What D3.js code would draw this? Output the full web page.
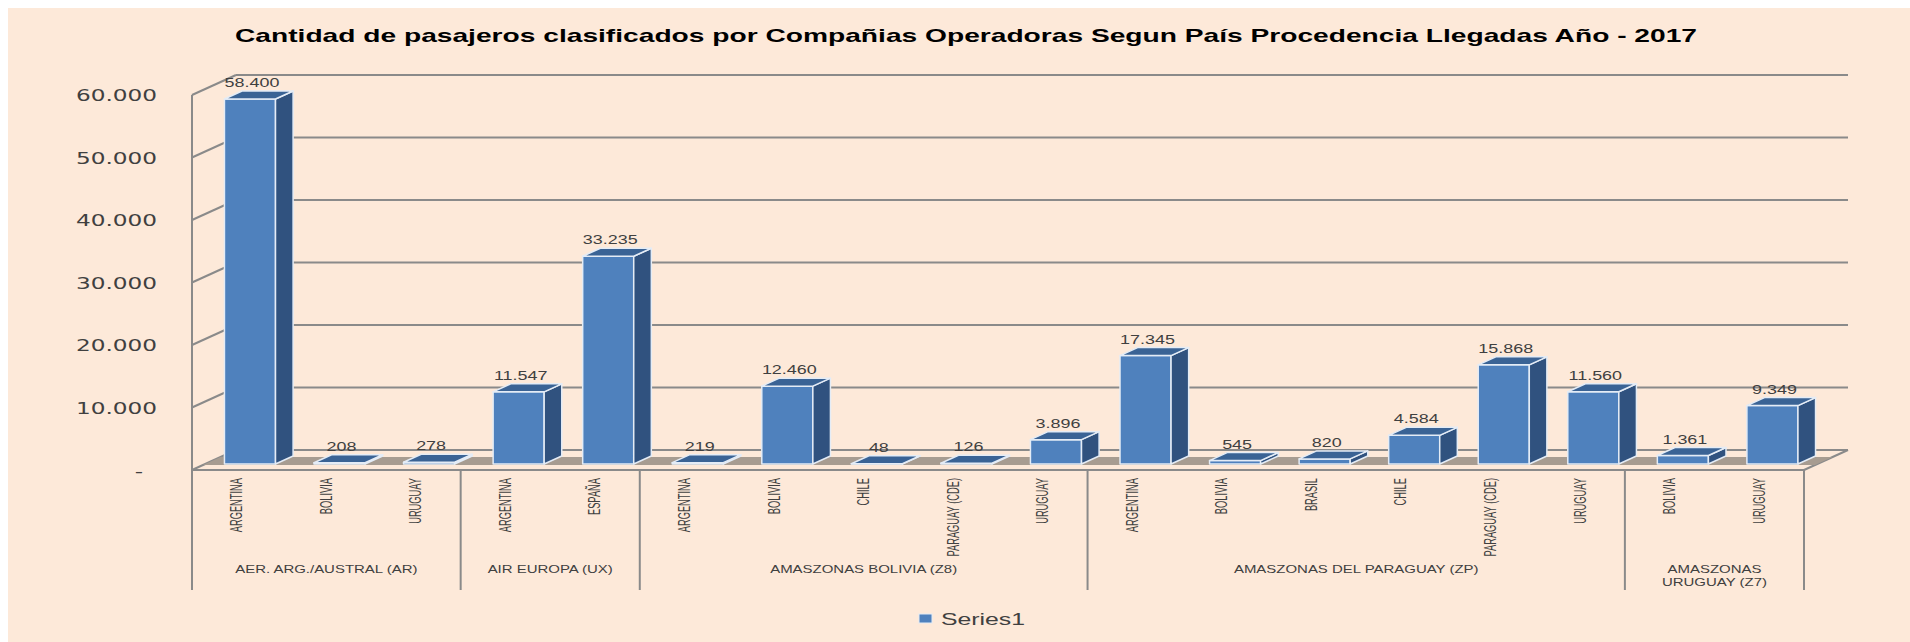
<!DOCTYPE html>
<html>
<head>
<meta charset="utf-8">
<script src="https://cdn.jsdelivr.net/npm/d3@7"></script>
<style>
  body { margin: 0; background: #fff; }
  svg text { font-family: "Liberation Sans", Arial, sans-serif; fill: #404040; }
</style>
</head>
<body>
<svg id="chart" width="1910" height="642"></svg>
<script>
// ---- data ----
var title = "Cantidad de pasajeros clasificados por Compañias Operadoras Segun País Procedencia Llegadas Año - 2017";
var companies = ["AER. ARG./AUSTRAL (AR)", "AIR EUROPA (UX)", "AMASZONAS BOLIVIA (Z8)", "AMASZONAS DEL PARAGUAY (ZP)", "AMASZONAS URUGUAY (Z7)"];
var countries = ["ARGENTINA", "BOLIVIA", "URUGUAY",
                 "ARGENTINA", "ESPAÑA",
                 "ARGENTINA", "BOLIVIA", "CHILE", "PARAGUAY (CDE)", "URUGUAY",
                 "ARGENTINA", "BOLIVIA", "BRASIL", "CHILE", "PARAGUAY (CDE)", "URUGUAY",
                 "BOLIVIA", "URUGUAY"];
var companyIndex = [0, 0, 0, 1, 1, 2, 2, 2, 2, 2, 3, 3, 3, 3, 3, 3, 4, 4];
var series1 = [58400, 208, 278, 11547, 33235, 219, 12460, 48, 126, 3896, 17345, 545, 820, 4584, 15868, 11560, 1361, 9349];
var yTicks = [0, 10000, 20000, 30000, 40000, 50000, 60000];
var seriesName = "Series1";

// ---- layout ----
var left = 192, right = 1804, floorY = 470, topY = 95;
var depthX = 44, depthY = -20;   // full depth offset of the 3D box
var sepBottom = 590;
var gridColor = "#8a8a8a";

var svg = d3.select("#chart");
var fmt = d3.formatLocale({decimal: ",", thousands: ".", grouping: [3], currency: ["", ""]}).format(",d");

var x = d3.scaleBand().domain(d3.range(countries.length)).range([left, right]);
var y = d3.scaleLinear().domain([0, 60000]).range([floorY, topY]);

//Text squeezed/stretched horizontally like the reference
function stretched(g, px, py, str, sx, extra) {
  var t = g.append("text")
    .attr("transform", "translate(" + px + "," + py + ") scale(" + sx + ",1)" + (extra || ""))
    .attr("dominant-baseline", "central")
    .text(str);
  return t;
}

//Background
svg.append("rect").attr("x", 8).attr("y", 8).attr("width", 1902).attr("height", 634).attr("fill", "#FDE9D9");

//Title
svg.append("text")
  .attr("x", 966).attr("y", 35)
  .attr("text-anchor", "middle")
  .attr("dominant-baseline", "central")
  .attr("textLength", 1462)
  .attr("lengthAdjust", "spacingAndGlyphs")
  .style("font-weight", "bold")
  .style("font-size", "19px")
  .style("fill", "#000")
  .text(title);

var walls = svg.append("g").attr("stroke", gridColor).attr("stroke-width", 2).attr("fill", "none");

//Back wall gridlines
walls.selectAll(".grid").data(yTicks).enter().append("line")
  .attr("x1", left + depthX).attr("x2", right + depthX)
  .attr("y1", function(d) { return y(d) + depthY; })
  .attr("y2", function(d) { return y(d) + depthY; });

//Side wall gridlines
walls.selectAll(".side").data(yTicks).enter().append("line")
  .attr("x1", left).attr("x2", left + depthX)
  .attr("y1", function(d) { return y(d); })
  .attr("y2", function(d) { return y(d) + depthY; });

//Floor band
var d0 = 0.25, d1 = 0.65;
svg.append("polygon")
  .attr("points", [
    [left + d0 * depthX, floorY + d0 * depthY],
    [right + d0 * depthX, floorY + d0 * depthY],
    [right + d1 * depthX, floorY + d1 * depthY],
    [left + d1 * depthX, floorY + d1 * depthY]
  ].join(" "))
  .attr("fill", "#A79C91");

//Front floor edge, right edge, value axis
walls.append("line").attr("x1", left).attr("x2", right).attr("y1", floorY).attr("y2", floorY);
walls.append("line").attr("x1", right).attr("x2", right + depthX).attr("y1", floorY).attr("y2", floorY + depthY);
walls.append("line").attr("x1", left).attr("x2", left).attr("y1", topY).attr("y2", sepBottom);

//Bars
var bw = x.bandwidth() * 0.57;
var bd0 = 0.3, bd = 0.4;
var bars = svg.append("g").attr("stroke", "#E4ECF6").attr("stroke-width", 1.5).attr("stroke-linejoin", "round");

series1.forEach(function(v, i) {
  var fx = x(i) + (x.bandwidth() - bw) / 2 + bd0 * depthX;
  var base = floorY + bd0 * depthY;
  var top = base - (floorY - y(v));
  var ox = bd * depthX, oy = bd * depthY;

  bars.append("rect")
    .attr("x", fx).attr("y", top)
    .attr("width", bw).attr("height", base - top)
    .attr("fill", "#4F81BD");
  bars.append("polygon")
    .attr("points", [[fx + bw, base], [fx + bw + ox, base + oy], [fx + bw + ox, top + oy], [fx + bw, top]].join(" "))
    .attr("fill", "#30527F");
  bars.append("polygon")
    .attr("points", [[fx, top], [fx + ox, top + oy], [fx + bw + ox, top + oy], [fx + bw, top]].join(" "))
    .attr("fill", "#3A6395");

  stretched(svg, fx + bw / 2 + 2, top + oy - 8.5, fmt(v), 1.38)
    .attr("text-anchor", "middle")
    .style("font-size", "13px");
});

//Value axis labels
yTicks.forEach(function(t) {
  if (t === 0) {
    stretched(svg, 143, y(t) + 2, "-", 1.45).attr("text-anchor", "end")
      .style("font-family", "DejaVu Sans").style("font-size", "16px");
  } else {
    stretched(svg, 157, y(t) + 1, fmt(t), 1.45).attr("text-anchor", "end")
      .style("font-family", "DejaVu Sans").style("font-size", "16px");
  }
});

//Category labels (rotated)
countries.forEach(function(c, i) {
  stretched(svg, x(i) + x.bandwidth() / 2, 478, c, 1.7, " rotate(-90)")
    .attr("text-anchor", "end")
    .style("font-size", "9.3px");
});

//Company separators and labels
var seps = svg.append("g").attr("stroke", gridColor).attr("stroke-width", 2);
companies.forEach(function(name, k) {
  var idx = d3.range(countries.length).filter(function(i) { return companyIndex[i] === k; });
  var x0 = x(idx[0]), x1 = x(idx[idx.length - 1]) + x.bandwidth();
  seps.append("line").attr("x1", x1).attr("x2", x1).attr("y1", floorY).attr("y2", sepBottom);

  //greedy word wrap to the group width
  var sx = 1.36, maxW = (x1 - x0) - 16;
  var words = name.split(" "), lines = [], cur = "";
  var probe = svg.append("text").style("font-size", "11px");
  words.forEach(function(w) {
    var test = cur ? cur + " " + w : w;
    probe.text(test);
    if (cur && probe.node().getComputedTextLength() * sx > maxW) {
      lines.push(cur);
      cur = w;
    } else {
      cur = test;
    }
  });
  lines.push(cur);
  probe.remove();

  lines.forEach(function(ln, j) {
    stretched(svg, (x0 + x1) / 2, 569 + j * 13, ln, sx)
      .attr("text-anchor", "middle")
      .style("font-size", "11px");
  });
});

//Legend
svg.append("rect").attr("x", 919).attr("y", 614).attr("width", 13).attr("height", 9)
  .attr("fill", "#4F81BD").attr("stroke", "#E4ECF6").attr("stroke-width", 1);
stretched(svg, 941, 619, seriesName, 1.55).style("font-size", "16px");
</script>
</body>
</html>
